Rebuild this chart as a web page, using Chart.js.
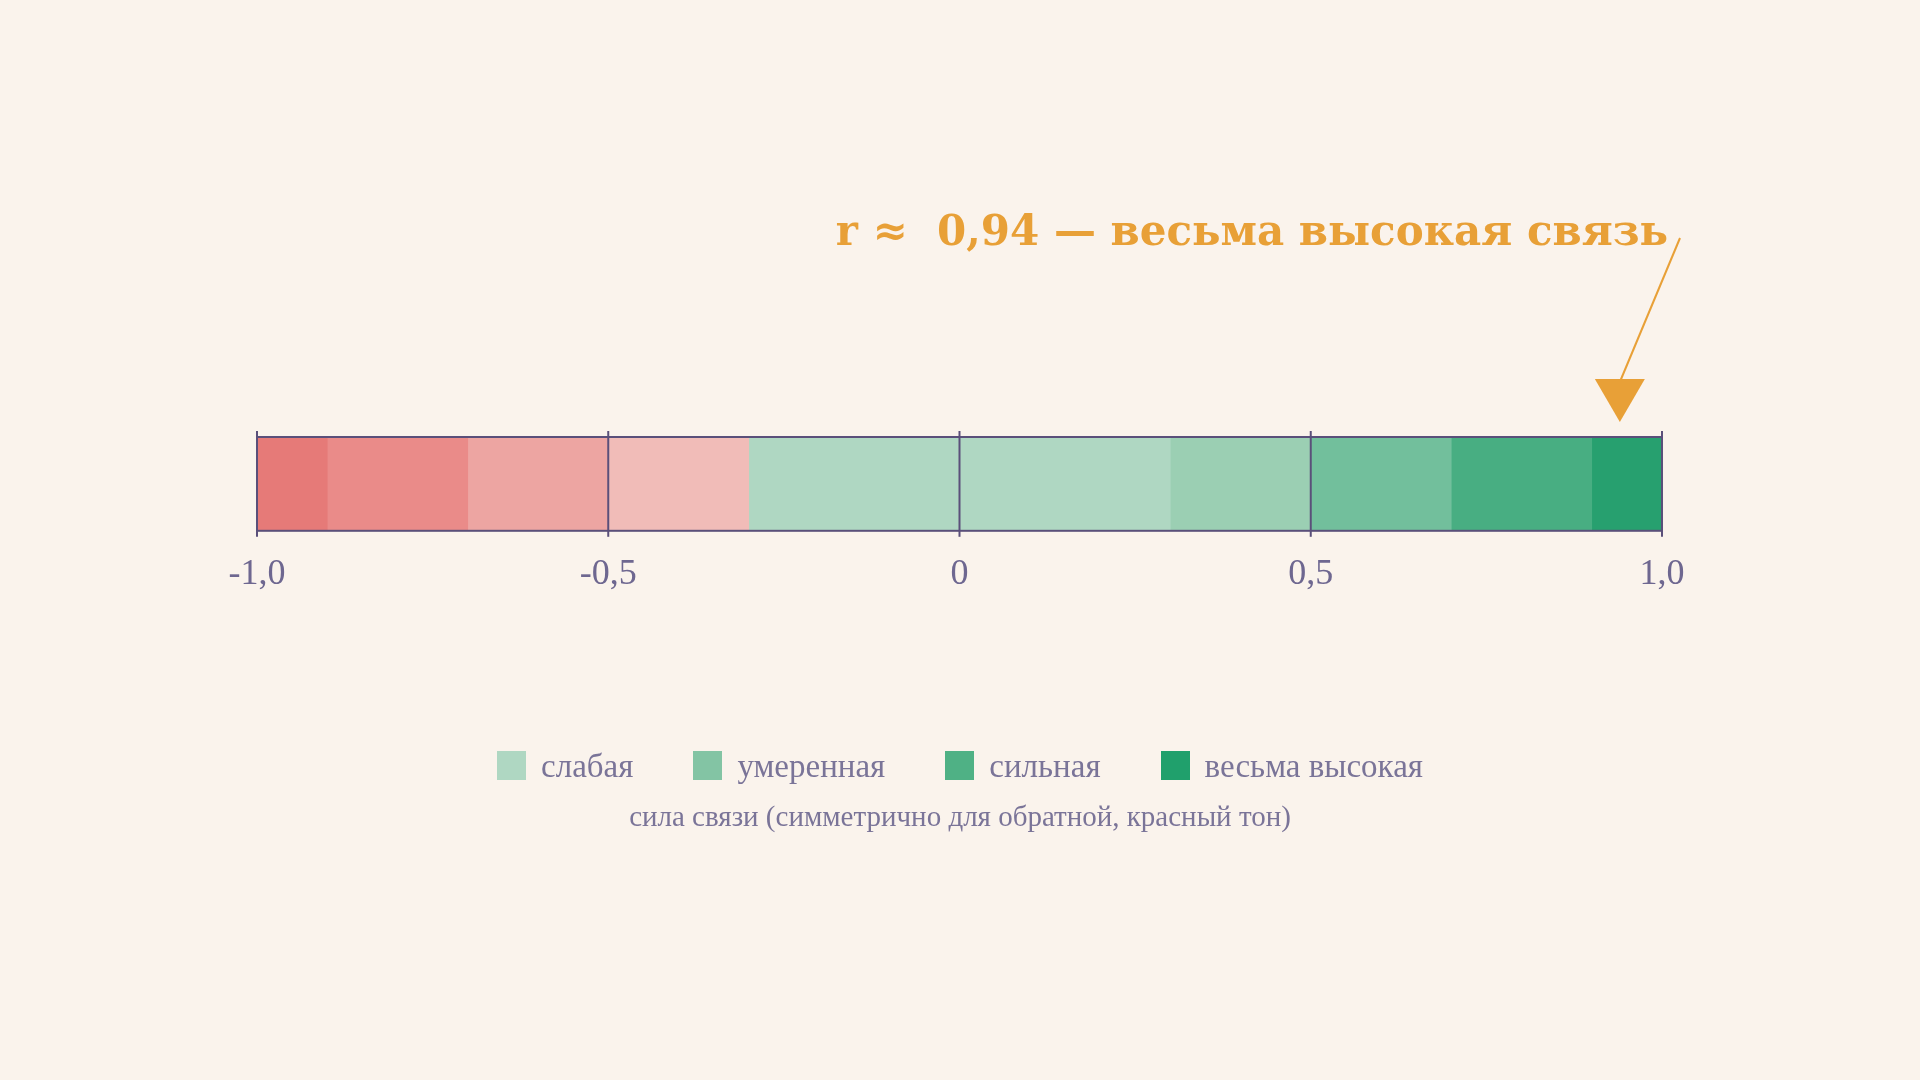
<!DOCTYPE html>
<html><head><meta charset="utf-8">
<script src="https://cdn.jsdelivr.net/npm/chart.js@4/dist/chart.umd.min.js"></script>
<style>
html,body{margin:0;padding:0;background:#faf3ec;width:1920px;height:1080px;overflow:hidden;font-family:"DejaVu Serif",serif}
#wrap{position:absolute;left:0;top:0;width:1920px;height:1080px}
#legend{position:absolute;top:748px;left:0;width:1920px;text-align:center;color:#7a7498;font-size:33px;font-family:"Liberation Serif","DejaVu Serif",serif}
#legend span.item{display:inline-block;margin:0 30px}
#legend i{display:inline-block;width:29px;height:29px;margin-right:15px;vertical-align:-3px}
#caption{position:absolute;top:800px;left:0;width:1920px;text-align:center;color:#7a7498;font-size:29px;font-family:"Liberation Serif","DejaVu Serif",serif}
</style></head><body>
<div id="wrap"><canvas id="c" width="1920" height="1080"></canvas></div>
<div id="legend"></div>
<div id="caption">сила связи (симметрично для обратной, красный тон)</div>
<script>
const segStarts = [-1.0,-0.9,-0.7,-0.5,-0.3,0.3,0.5,0.7,0.9];
const segEnds   = [-0.9,-0.7,-0.5,-0.3,0.3,0.5,0.7,0.9,1.0];
const segColors = ['#e67a78','#ea8b89','#eda5a2','#f1bcb8','#afd7c2','#9bcfb3','#72bf9c','#48ae82','#27a06f'];
const tickValues = [-1,-0.5,0,0.5,1];
const tickLabels = ['-1,0','-0,5','0','0,5','1,0'];
const legendLabels = ['слабая','умеренная','сильная','весьма высокая'];
const legendColors = ['#afd7c2','#83c4a4','#4fb185','#20a06c'];
const rValue = 0.94;
const titleText = 'r ≈  0,94 — весьма высокая связь';

document.getElementById('legend').innerHTML = legendLabels.map((l,i)=>
  `<span class="item"><i style="background:${legendColors[i]}"></i>${l}</span>`).join('');

const datasets = segStarts.map((s,i)=>({data:[[s,segEnds[i]]],backgroundColor:segColors[i],borderWidth:0,barPercentage:1,categoryPercentage:1,grouped:false}));

const ink = '#5a4f7a';
const deco = {
  id:'deco',
  afterDatasetsDraw(chart){
    const {ctx, chartArea:a, scales:{x}} = chart;
    ctx.save();
    ctx.strokeStyle = ink; ctx.lineWidth = 2;
    ctx.strokeRect(a.left, a.top, a.right-a.left, a.bottom-a.top);
    tickValues.forEach(v=>{
      const px = x.getPixelForValue(v);
      ctx.beginPath(); ctx.moveTo(px, a.top-6); ctx.lineTo(px, a.bottom+6); ctx.stroke();
    });
    // annotation
    const ax = x.getPixelForValue(rValue);
    ctx.fillStyle = '#e8a037'; ctx.strokeStyle = '#e8a037'; ctx.lineWidth = 2;
    ctx.beginPath(); ctx.moveTo(1680, 238); ctx.lineTo(ax, 382); ctx.stroke();
    ctx.beginPath(); ctx.moveTo(ax-25, 379); ctx.lineTo(ax+25, 379); ctx.lineTo(ax, 422); ctx.closePath(); ctx.fill();
    ctx.font = 'bold 42px "DejaVu Serif", serif';
    ctx.textAlign = 'right'; ctx.textBaseline = 'middle';
    ctx.fillText(titleText, 1668, 234);
    ctx.restore();
  }
};

new Chart(document.getElementById('c'), {
  type:'bar',
  data:{labels:[''], datasets},
  options:{
    indexAxis:'y', responsive:false, animation:false,
    layout:{padding:{left:257,right:258,top:437,bottom:470}},
    plugins:{legend:{display:false},tooltip:{enabled:false}},
    scales:{
      y:{display:false},
      x:{min:-1,max:1,
        afterBuildTicks(ax){ax.ticks = tickValues.map(v=>({value:v}));},
        grid:{display:false},
        border:{display:false},
        ticks:{autoSkip:false,maxRotation:0,padding:14,color:'#6e6790',
          font:{family:'"Liberation Serif","DejaVu Serif",serif',size:36},
          callback:(v)=>tickLabels[tickValues.indexOf(v)]}
      }
    }
  },
  plugins:[deco]
});
</script>
</body></html>
